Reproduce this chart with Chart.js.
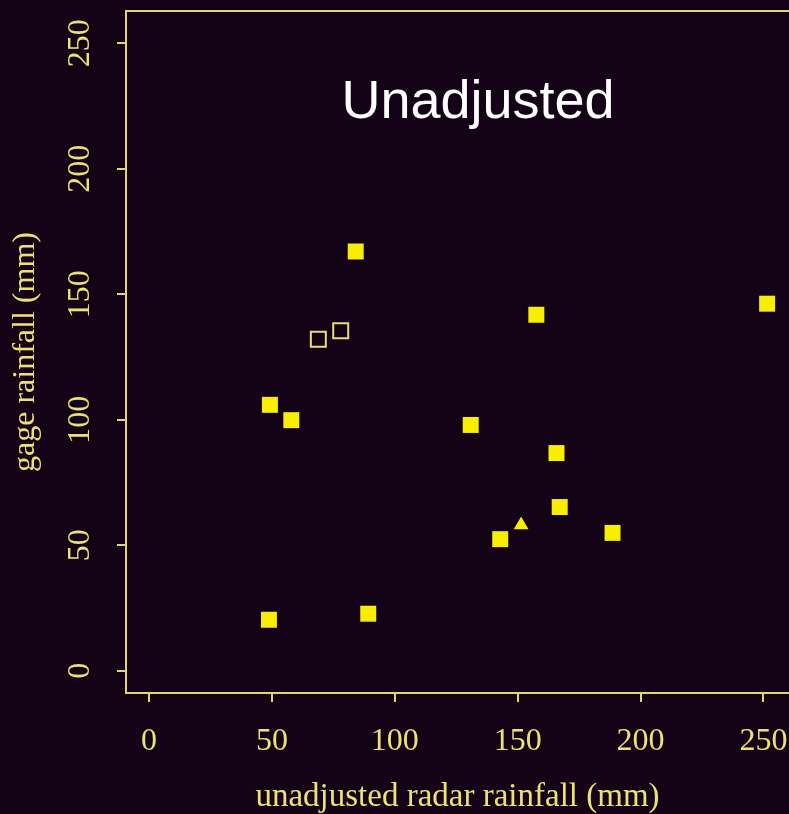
<!DOCTYPE html>
<html>
<head>
<meta charset="utf-8">
<script src="https://cdn.jsdelivr.net/npm/chart.js@4"></script>
<style>
  html, body { margin: 0; padding: 0; background: #140317; overflow: hidden; }
  #wrap { width: 789px; height: 814px; }
</style>
</head>
<body>
<div id="wrap"><canvas id="c" width="789" height="814"></canvas></div>
<script>
// ---- data ----
const chartTitle = "Unadjusted";
const xAxisTitle = "unadjusted radar rainfall (mm)";
const yAxisTitle = "gage rainfall (mm)";
const xTicks = [0, 50, 100, 150, 200, 250];
const yTicks = [0, 50, 100, 150, 200, 250];

const filledX = [84.1, 49.2, 57.9, 157.6, 130.9, 165.8, 167.1, 142.9, 188.6, 48.8, 89.2, 251.5];
const filledY = [167.0, 105.9, 99.8, 141.8, 97.9, 86.7, 65.2, 52.4, 54.9, 20.3, 22.7, 146.2];
const openX = [68.9, 78.0];
const openY = [132.0, 135.4];
const triX = [151.4];
const triY = [58.0];

const toPts = (xs, ys) => xs.map((x, i) => ({ x: x, y: ys[i] }));

const lineColor = '#e2d672';
const textColor = '#ece274';

const framePlugin = {
  id: 'frame',
  afterDraw(chart) {
    const { ctx, chartArea } = chart;
    ctx.save();
    ctx.strokeStyle = lineColor;
    ctx.lineWidth = 2;
    ctx.beginPath();
    ctx.moveTo(chartArea.left, chartArea.top);
    ctx.lineTo(chartArea.right, chartArea.top);
    ctx.stroke();
    // in-plot title
    ctx.fillStyle = '#ffffff';
    ctx.font = '54px "Liberation Sans", Arial, sans-serif';
    ctx.textAlign = 'center';
    ctx.textBaseline = 'alphabetic';
    ctx.fillText(chartTitle, chartArea.left + (chartArea.right - chartArea.left) * 0.531, chartArea.top + 107);
    ctx.restore();
  }
};

const zeroPad = (s) => { s.paddingLeft = 0; s.paddingRight = 0; s.paddingTop = 0; s.paddingBottom = 0; };

const tickFont = { family: '"Liberation Serif", "Times New Roman", serif', size: 32 };
const titleFont = { family: '"Liberation Serif", "Times New Roman", serif', size: 33, lineHeight: 1.0 };

new Chart(document.getElementById('c'), {
  type: 'scatter',
  data: {
    datasets: [
      {
        data: toPts(filledX, filledY),
        pointStyle: 'rect',
        pointRadius: 11.3,
        pointHoverRadius: 11.3,
        backgroundColor: '#f8ef00',
        borderColor: '#f8ef00',
        borderWidth: 0
      },
      {
        data: toPts(openX, openY),
        pointStyle: 'rect',
        pointRadius: 10.6,
        pointHoverRadius: 10.6,
        backgroundColor: 'rgba(0,0,0,0)',
        borderColor: '#e8dc80',
        borderWidth: 2
      },
      {
        data: toPts(triX, triY),
        pointStyle: 'triangle',
        pointRadius: 8.5,
        pointHoverRadius: 8.5,
        backgroundColor: '#f8ef00',
        borderColor: '#f8ef00',
        borderWidth: 0
      }
    ]
  },
  options: {
    responsive: false,
    devicePixelRatio: 1,
    animation: false,
    events: [],
    layout: { autoPadding: false, padding: { top: 11, left: 0, right: 0, bottom: 0 } },
    plugins: {
      legend: { display: false },
      tooltip: { enabled: false },
      title: { display: false }
    },
    scales: {
      x: {
        type: 'linear',
        min: -9.36,
        max: 260.4,
        afterBuildTicks: (s) => { s.ticks = xTicks.map(v => ({ value: v })); },
        afterFit: (s) => { s.height = 121; zeroPad(s); },
        grid: { display: true, drawOnChartArea: false, drawTicks: true, tickLength: 9, color: lineColor, lineWidth: 2 },
        border: { display: true, color: lineColor, width: 2 },
        ticks: { color: textColor, font: tickFont, padding: 20, maxRotation: 0, minRotation: 0 },
        title: { display: true, text: xAxisTitle, color: textColor, font: titleFont, padding: { top: 0, bottom: 0 } }
      },
      y: {
        type: 'linear',
        min: -8.88,
        max: 262.8,
        afterBuildTicks: (s) => { s.ticks = yTicks.map(v => ({ value: v })); },
        afterFit: (s) => { s.width = 126; zeroPad(s); },
        grid: { display: true, drawOnChartArea: false, drawTicks: true, tickLength: 9, color: lineColor, lineWidth: 2 },
        border: { display: true, color: lineColor, width: 2 },
        ticks: { color: textColor, font: tickFont, padding: 12, minRotation: 90, maxRotation: 90, crossAlign: 'center' },
        title: { display: true, text: yAxisTitle, color: textColor, font: { family: titleFont.family, size: 32 }, padding: { top: 6, bottom: 0 } }
      }
    }
  },
  plugins: [framePlugin]
});
</script>
</body>
</html>
